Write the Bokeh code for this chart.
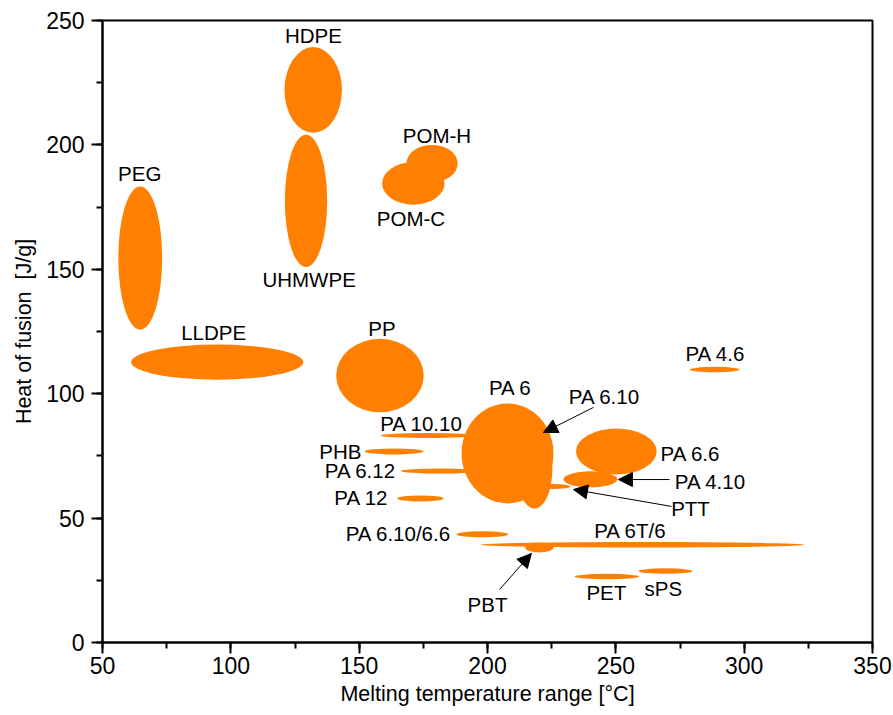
from bokeh.plotting import figure
from bokeh.models import Range1d, Arrow, NormalHead, FixedTicker, ColumnDataSource
from bokeh.embed import file_html
from bokeh.resources import INLINE
from bokeh.core.properties import value

# Polymers: melting temperature range (centre / spread, °C) and heat of fusion (centre / spread, J/g)
polymers = ["HDPE", "UHMWPE", "PEG", "LLDPE", "PP", "POM-H", "POM-C", "PA 4.6",
            "PA 10.10", "PHB", "PA 6.12", "PA 12", "PA 6.10/6.6", "PA 6T/6", "PBT",
            "PET", "sPS", "PA 6.6", "PA 4.10", "PTT", "PA 6", "PA 6.10"]
tm_center = [132.1, 129.3, 64.7, 94.7, 158.1, 178.4, 171.1, 288.5,
             176.8, 163.6, 181.7, 173.9, 198.0, 260.4, 220.2,
             246.5, 269.3, 250.2, 240.1, 225.7, 207.8, 218.3]
tm_spread = [22.4, 16.5, 17.1, 67.1, 34.1, 20.0, 24.3, 19.4,
             37.0, 23.0, 31.0, 18.0, 20.3, 126.2, 11.0,
             25.2, 21.0, 31.4, 21.0, 13.0, 35.8, 14.0]
dh_center = [222.1, 177.5, 154.5, 112.7, 107.3, 192.5, 184.5, 109.7,
             83.2, 76.8, 68.9, 57.9, 43.5, 39.3, 38.2,
             26.5, 28.7, 76.8, 65.6, 62.7, 76.0, 69.9]
dh_spread = [34.4, 53.3, 57.5, 14.1, 29.5, 15.0, 17.1, 2.2,
             2.0, 2.4, 2.0, 2.4, 2.4, 2.2, 4.0,
             2.2, 2.2, 18.5, 6.4, 2.0, 40.2, 32.2]

# Axis ticks
x_ticks = [50, 100, 150, 200, 250, 300, 350]
y_ticks = [0, 50, 100, 150, 200, 250]

# Label placement (data coordinates)
label_names = ["HDPE", "POM-H", "PEG", "POM-C", "UHMWPE", "LLDPE", "PP", "PA 4.6",
               "PA 6", "PA 6.10", "PA 10.10", "PHB", "PA 6.6", "PA 6.12", "PA 4.10",
               "PA 12", "PTT", "PA 6.10/6.6", "PA 6T/6", "PBT", "PET", "sPS"]
label_x = [132.2, 180.3, 64.5, 170.2, 130.5, 93.3, 158.9, 288.8,
           208.9, 245.6, 174.3, 142.7, 279.1, 150.5, 286.9,
           150.9, 279.1, 165.3, 255.7, 200.0, 246.3, 268.5]
label_y = [244.0, 203.8, 188.4, 170.3, 145.9, 124.7, 126.3, 116.3,
           102.5, 98.9, 88.0, 76.8, 76.0, 69.1, 64.7,
           58.3, 53.9, 43.8, 45.0, 15.3, 20.1, 21.7]

# Pointer arrows: (x_start, y_start, x_end, y_end)
arrows = [(241.3, 94.5, 221.8, 84.4),   # PA 6.10
          (270.9, 65.5, 251.0, 65.5),   # PA 4.10
          (271.7, 54.7, 233.5, 61.5),   # PTT
          (204.7, 21.3, 217.1, 35.8)]   # PBT

ORANGE = "#FF8000"
FONT = "Liberation Sans"

p = figure(frame_width=770, frame_height=622, output_backend="svg",
           toolbar_location=None, x_range=Range1d(50, 350), y_range=Range1d(0, 250),
           min_border_left=102, min_border_right=21, min_border_top=20,
           min_border_bottom=73)
p.background_fill_color = "white"
p.border_fill_color = "white"
p.outline_line_color = "black"
p.outline_line_width = 2
p.xgrid.visible = False
p.ygrid.visible = False

src = ColumnDataSource(dict(x=tm_center, y=dh_center, w=tm_spread, h=dh_spread, name=polymers))
p.ellipse(x="x", y="y", width="w", height="h", source=src,
          fill_color=ORANGE, line_color=None)

lsrc = ColumnDataSource(dict(x=label_x, y=label_y, text=label_names))
p.text(x="x", y="y", text="text", source=lsrc, text_font=value(FONT),
       text_font_size="20.5px", text_align="center", text_baseline="middle",
       text_color="black")

for xs, ys, xe, ye in arrows:
    p.add_layout(Arrow(x_start=xs, y_start=ys, x_end=xe, y_end=ye,
                       line_color="black", line_width=1,
                       end=NormalHead(size=14, fill_color="black", line_color="black")))

p.xaxis.ticker = FixedTicker(ticks=x_ticks, minor_ticks=list(range(50, 351, 25)))
p.yaxis.ticker = FixedTicker(ticks=y_ticks, minor_ticks=list(range(0, 251, 25)))

for ax in (p.xaxis[0], p.yaxis[0]):
    ax.axis_line_width = 2
    ax.axis_line_color = "black"
    ax.major_tick_line_width = 2
    ax.minor_tick_line_width = 2
    ax.major_tick_in = 0
    ax.major_tick_out = 11
    ax.minor_tick_in = 0
    ax.minor_tick_out = 6
    ax.major_label_text_font = FONT
    ax.major_label_text_font_size = "23px"
    ax.major_label_text_color = "black"
    ax.axis_label_text_font = FONT
    ax.axis_label_text_font_size = "21.5px"
    ax.axis_label_text_font_style = "normal"
    ax.axis_label_text_color = "black"

p.xaxis.axis_label = "Melting temperature range [°C]"
p.yaxis.axis_label = "Heat of fusion\u00a0 [J/g]"
p.xaxis.major_label_standoff = 3
p.yaxis.major_label_standoff = 7
p.xaxis.axis_label_standoff = 5
p.yaxis.axis_label_standoff = 7

open("out.html", "w").write(file_html(p, INLINE))
